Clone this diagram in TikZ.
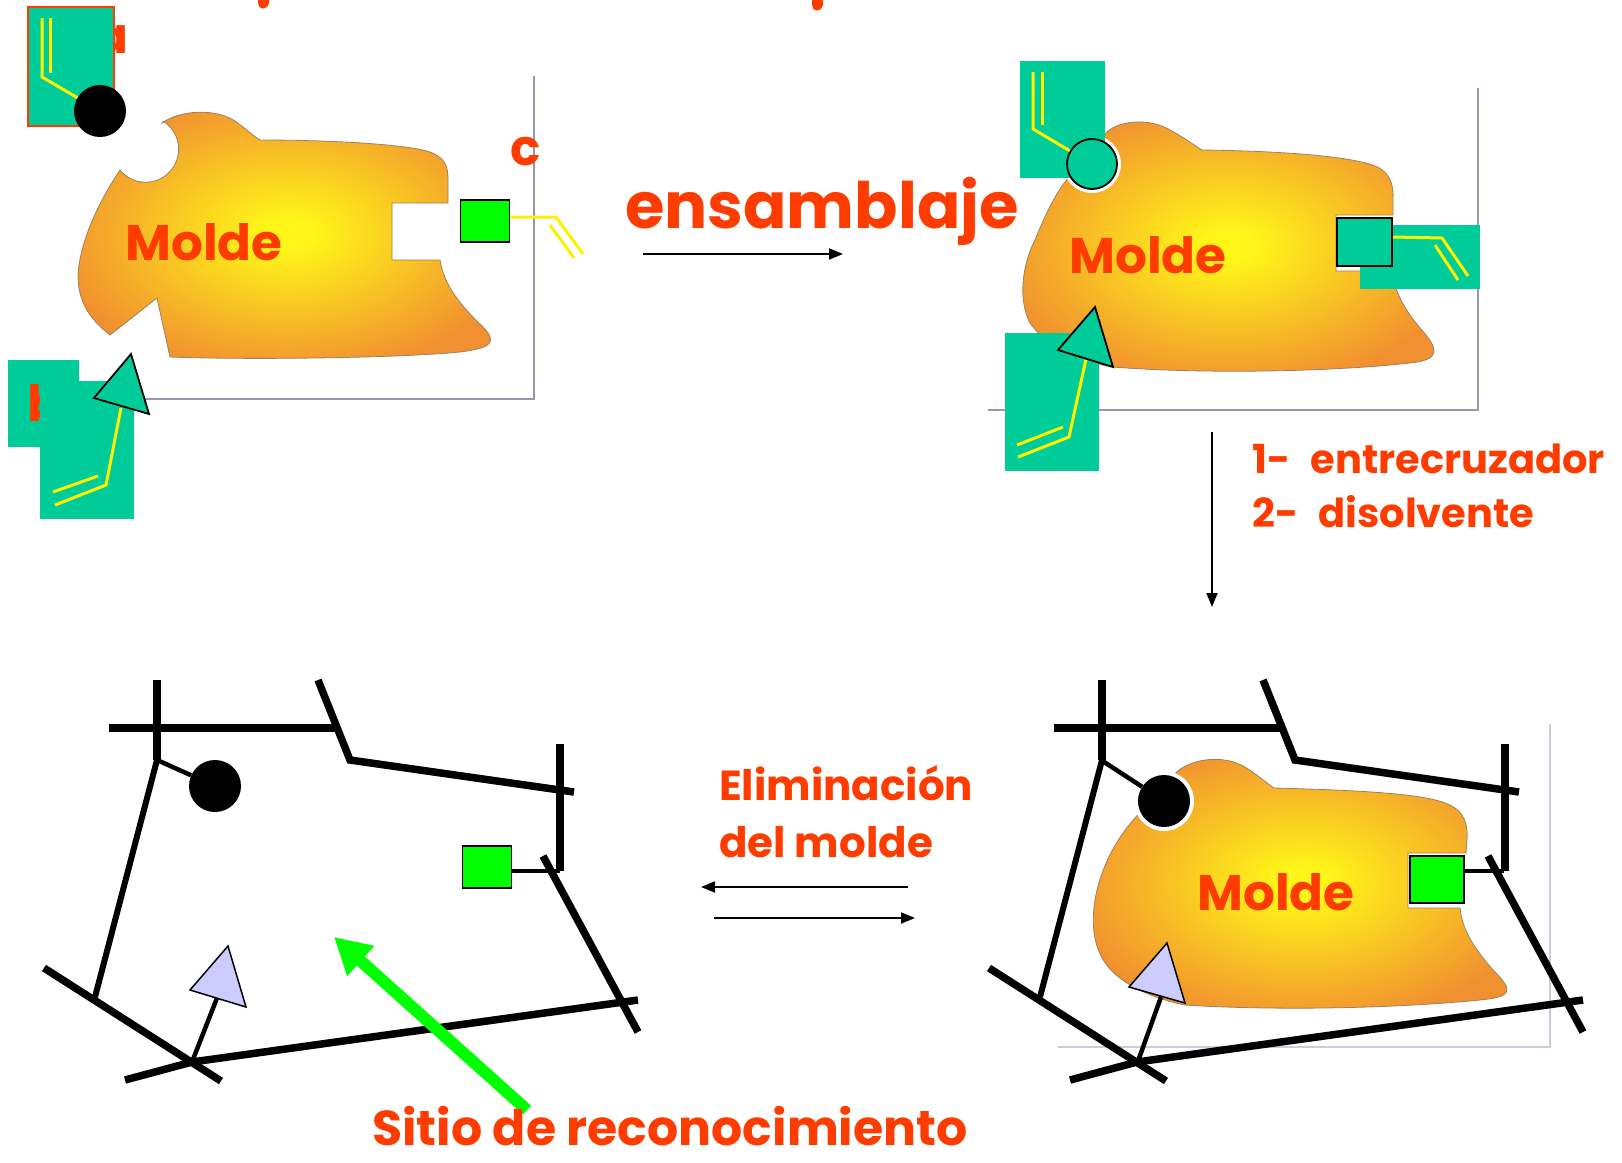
\documentclass[tikz,border=0pt]{standalone}
\usepackage{fontspec}
\setmainfont{Poppins}
\usetikzlibrary{arrows.meta}

\definecolor{labelred}{RGB}{255,60,0}
\definecolor{siteteal}{RGB}{0,204,153}
\definecolor{sitegreen}{RGB}{0,255,0}
\definecolor{sitelilac}{RGB}{204,204,255}
\definecolor{framegray}{RGB}{150,150,180}
\definecolor{moldecore}{RGB}{255,245,25}
\definecolor{moldeedge}{RGB}{241,144,48}

% yellow core fading to orange at the rim of the template
\pgfdeclareradialshading{moldeglow}{\pgfpoint{0bp}{0bp}}{%
  color(0bp)=(moldecore); color(3bp)=(moldecore);
  color(28bp)=(moldeedge); color(50bp)=(moldeedge)}

% cross-linked network, drawn once per bottom panel
\newcommand\polymernet{%
  \draw[lattice] (157,680) -- (157,760);
  \draw[lattice] (109,728) -- (336,728);
  \draw[lattice] (318,680) -- (350,760) -- (574,792);
  \draw[lattice] (560,744) -- (560,871);
  \draw[lattice] (543,856) -- (638,1032);
  \draw[lattice] (125,1080) -- (192,1062) -- (638,1000);
  \draw[lattice] (44,968) -- (221,1081);
  \draw[line width=6pt] (157,760) -- (95,997);
}

\begin{document}
\begin{tikzpicture}[x=1pt,y=-1pt,
    tag/.style={text=labelred, inner sep=0pt, font=\fontsize{#1}{#1}\selectfont\bfseries},
    lattice/.style={line width=7.5pt},
    tether/.style={line width=4.5pt},
    vinyl/.style={draw=yellow, line width=3pt},
    molde/.style={shading=moldeglow, draw=brown!50!gray, line width=0.8pt},
    boxline/.style={draw=framegray, line width=1.2pt},
    dot/.style={circle, inner sep=0pt, minimum size=#1},
    block/.style={draw=black, line width=1.8pt, inner sep=0pt},
    react/.style={line width=1.8pt, -{Triangle[length=14pt,width=11pt]}},
  ]
\useasboundingbox (0,0) rectangle (1622,1162);

% bits of the heading above the page edge
\draw[labelred, line width=11pt, line cap=round] (263,-14) -- (263,3);
\draw[labelred, line width=11pt, line cap=round] (817,-14) -- (817,5);

% ---- template with the free monomers ----
\draw[boxline] (145,399) -- (534,399) -- (534,76);
\shade[molde] (162,123) .. controls (180,110) and (215,108) .. (235,121)
  .. controls (245,128) and (252,135) .. (260,140)
  .. controls (330,140) and (400,144) .. (427,151)
  .. controls (445,157) and (448,165) .. (448,180) -- (448,203)
  -- (392,203) -- (392,260) -- (440,260)
  .. controls (444,285) and (460,305) .. (482,326)
  .. controls (498,342) and (492,348) .. (460,352)
  .. controls (400,358) and (250,360) .. (170,357)
  -- (157,298) -- (110,335)
  .. controls (88,318) and (78,300) .. (78,275)
  .. controls (80,240) and (100,200) .. (120,170)
  arc[start angle=141, end angle=-58, radius=33] -- cycle;
\node[tag=50, anchor=base] (tl-molde) at (204,260) {Molde};

\node[tag=50, anchor=base east] (tl-a) at (129,53) {a};
\draw[draw=labelred, line width=2pt, fill=siteteal] (28,7) rectangle (114,126);
\node[dot=52pt, fill=black] (tl-dot) at (100,111) {};
\draw[vinyl] (42,18) -- (42,77) -- (tl-dot);
\draw[vinyl] (50,18) -- (50,73);

\node[tag=50, anchor=base] (tl-c) at (526,165) {c};
\node[block, fill=sitegreen, minimum width=49pt, minimum height=42pt] (tl-box) at (485,221) {};
\draw[vinyl] ([yshift=4pt]tl-box.east) -- (556,217) -- (583,254);
\draw[vinyl] (550,225) -- (574,258);

\fill[siteteal] (8,360) rectangle (79,447);
\node[tag=50, anchor=base west] (tl-b) at (27,421) {b};
\fill[siteteal] (40,381) rectangle (134,519);
\coordinate (tl-tri) at (121,408);
\draw[vinyl] (tl-tri) -- (106,485) -- (55,505);
\draw[vinyl] (53,492) -- (98,476);
\draw[fill=siteteal, line width=1.8pt] (131,354) -- (94,398) -- (149,414) -- cycle;

% ---- assembled complex ----
\coordinate (ens-tail) at (643,254);
\coordinate (ens-head) at (843,254);
\draw[react] (ens-tail) -- (ens-head);
\node[tag=64, anchor=base] (ens) at (822,228) {ensamblaje};

\draw[boxline] (988,410) -- (1478,410) -- (1478,88);
\shade[molde] (1107,132) .. controls (1120,120) and (1150,118) .. (1170,130)
  .. controls (1185,138) and (1195,146) .. (1202,150)
  .. controls (1280,151) and (1350,156) .. (1375,166)
  .. controls (1390,172) and (1394,185) .. (1393,200) -- (1393,215)
  -- (1336,215) -- (1336,271) -- (1393,271)
  .. controls (1393,290) and (1405,310) .. (1420,328)
  .. controls (1440,350) and (1440,360) .. (1410,363)
  .. controls (1330,372) and (1200,374) .. (1113,367)
  .. controls (1080,362) and (1045,345) .. (1030,323)
  .. controls (1018,300) and (1022,265) .. (1035,240)
  .. controls (1045,215) and (1055,195) .. (1065,182)
  .. controls (1080,165) and (1095,145) .. (1107,132) -- cycle;
\node[tag=50, anchor=base] (tr-molde) at (1148,273) {Molde};

\fill[white] (1092,164) circle[radius=29];
\fill[siteteal] (1020,61) rectangle (1105,178);
\fill[siteteal] (1005,333) rectangle (1099,471);
\node[dot=50pt, draw=black, line width=1.8pt, fill=siteteal] (tr-dot) at (1092,164) {};
\draw[vinyl] (1033,72) -- (1033,129) -- (tr-dot);
\draw[vinyl] (1042,72) -- (1042,125);
\coordinate (tr-tri) at (1086,359);
\draw[vinyl] (tr-tri) -- (1069,437) -- (1018,457);
\draw[vinyl] (1017,445) -- (1063,427);
\draw[fill=siteteal, line width=1.8pt] (1095,307) -- (1058,350) -- (1113,367) -- cycle;
\fill[siteteal] (1360,225) rectangle (1480,289);
\node[block, fill=siteteal, minimum width=55pt, minimum height=48pt] (tr-box) at (1364.5,242) {};
\draw[vinyl] ([yshift=5pt]tr-box.east) -- (1442,238) -- (1468,276);
\draw[vinyl] (1435,245) -- (1458,280);

% ---- polymerisation step ----
\coordinate (poly-tail) at (1212,432);
\coordinate (poly-head) at (1212,607);
\draw[react] (poly-tail) -- (poly-head);
\node[tag=40, anchor=base west] (step1) at (1252,473) {1-\hspace{0.5em}entrecruzador};
\node[tag=40, anchor=base west] (step2) at (1252,527) {2-\hspace{0.5em}disolvente};

% ---- imprinted polymer ----
\begin{scope}
  \polymernet
\end{scope}
\node[dot=52pt, fill=black] (bl-dot) at (215,786) {};
\draw[tether] (157,760) -- (bl-dot);
\node[block, line width=1.5pt, fill=sitegreen, minimum width=49pt, minimum height=42pt] (bl-box) at (487,867) {};
\draw[tether] (bl-box.east |- 0,871) -- (560,871);
\coordinate (bl-tri) at (217,998);
\draw[tether] (192,1062) -- (bl-tri);
\draw[fill=sitelilac, line width=1.5pt] (228,946) -- (190,990) -- (246,1007) -- cycle;

\coordinate (site-tail) at (527,1110);
\coordinate (site-tip) at (334,937);
\draw[sitegreen, line width=12pt, -{Triangle[length=36pt,width=38pt]}] (site-tail) -- (site-tip);
\node[tag=49, anchor=base] (sitio) at (670,1145) {Sitio de reconocimiento};

% ---- template removal / rebinding ----
\node[tag=42, anchor=base west] (elim1) at (719,800) {Eliminación};
\node[tag=42, anchor=base west] (elim2) at (719,857) {del molde};
\coordinate (out-tail) at (908,887);
\coordinate (out-head) at (701,887);
\coordinate (in-tail) at (714,918);
\coordinate (in-head) at (915,918);
\draw[react] (out-tail) -- (out-head);
\draw[react] (in-tail) -- (in-head);

\draw[boxline, draw=framegray!50] (1058,1047) -- (1550,1047) -- (1550,724);
\shade[molde] (1179,770) .. controls (1195,758) and (1225,755) .. (1245,767)
  .. controls (1258,775) and (1266,783) .. (1274,788)
  .. controls (1350,790) and (1420,793) .. (1445,803)
  .. controls (1465,810) and (1468,825) .. (1467,840) -- (1466,853)
  -- (1408,853) -- (1408,908) -- (1460,908)
  .. controls (1462,930) and (1475,950) .. (1495,972)
  .. controls (1515,992) and (1510,997) .. (1480,1000)
  .. controls (1400,1008) and (1280,1011) .. (1185,1005)
  .. controls (1160,1000) and (1135,990) .. (1120,978)
  .. controls (1095,960) and (1090,930) .. (1095,900)
  .. controls (1100,870) and (1115,840) .. (1135,818)
  .. controls (1150,800) and (1165,782) .. (1179,770) -- cycle;
\node[tag=50, anchor=base] (br-molde) at (1276,910) {Molde};
\begin{scope}[shift={(945,0)}]
  \polymernet
\end{scope}
\fill[white] (1164,801) circle[radius=30];
\node[dot=52pt, fill=black] (br-dot) at (1164,801) {};
\draw[tether] (1101,760) -- (br-dot);
\node[block, fill=sitegreen, minimum width=54pt, minimum height=47pt] (br-box) at (1437,879.5) {};
\draw[tether] (br-box.east |- 0,871) -- (1504,871);
\coordinate (br-tri) at (1161,997);
\draw[tether] (1137,1064) -- (br-tri);
\draw[fill=sitelilac, line width=1.5pt] (1167,943) -- (1129,987) -- (1185,1003) -- cycle;
\end{tikzpicture}
\end{document}
